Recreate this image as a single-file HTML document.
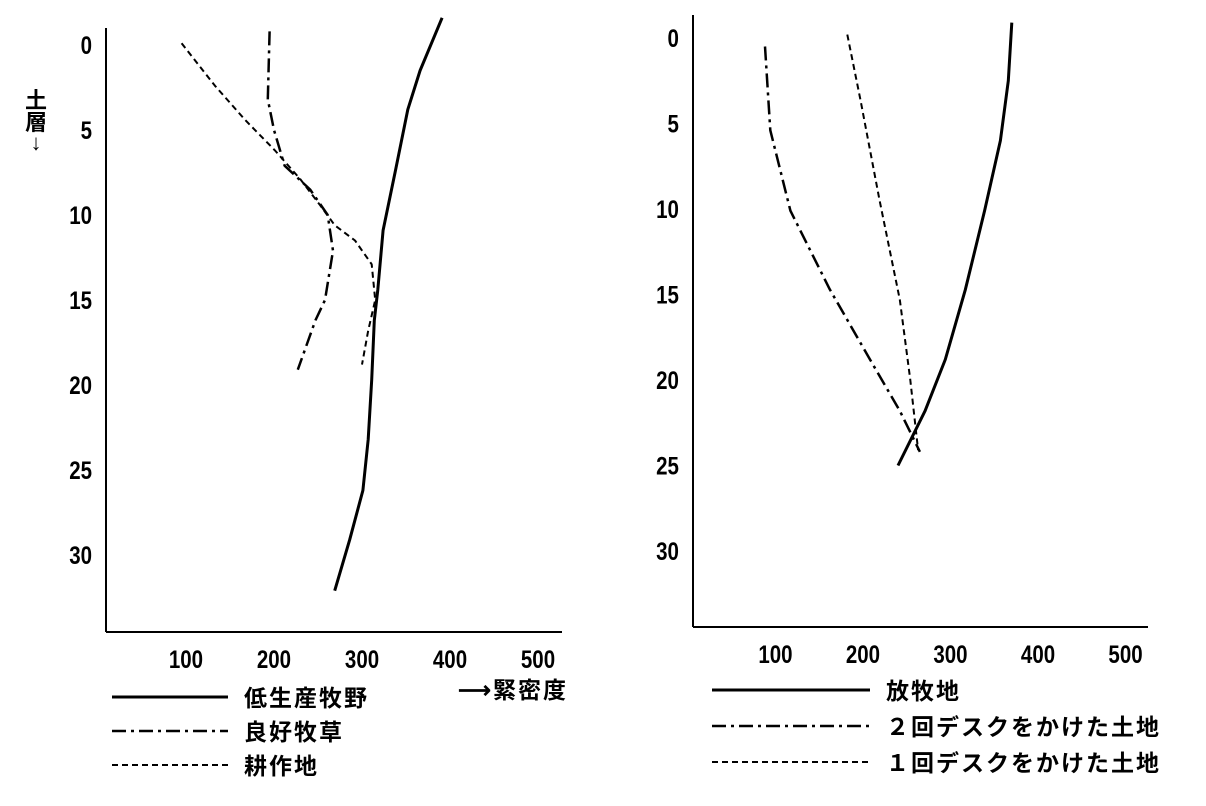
<!DOCTYPE html>
<html><head><meta charset="utf-8"><style>
body{margin:0;background:#fff;}
svg text{font-family:"Liberation Sans","Noto Sans CJK JP",sans-serif;fill:#000;font-weight:bold;}
</style></head><body>
<svg id="chart" width="1206" height="801" xmlns="http://www.w3.org/2000/svg"></svg>
<script>
const xTicks=[100,200,300,400,500];
const yTicks=[0,5,10,15,20,25,30];
const leftNames=["低生産牧野","良好牧草","耕作地"];
const leftSolidV=[391,366,352,338,324,318,314,311,307,301,286,269];
const leftSolidD=[-1.6,1.5,3.8,7.4,10.9,14.4,16.2,19.7,23.2,26.2,29.1,32.1];
const leftDashDotV=[195,193,200,212,241,261,267,258,247,227];
const leftDashDotD=[-0.8,3.2,5,7.1,8.5,10,12.1,15,16.2,19.1];
const leftDashV=[95,133,167,201,230,252,269,292,311,315,307,300];
const leftDashD=[-0.1,2.4,4.4,6.2,7.9,9.4,10.6,11.5,12.9,15,16.8,18.8];
const rightNames=["放牧地","２回デスクをかけた土地","１回デスクをかけた土地"];
const rightSolidV=[370,366,357,339,317,294,271,240];
const rightSolidD=[-0.9,2.5,6,10.1,14.7,18.8,21.8,25];
const rightDashDotV=[88,94,117,162,208,242,265];
const rightDashDotD=[0.5,5.4,10.1,14.7,18.8,21.8,24.2];
const rightDashV=[182,197,219,242,254,263];
const rightDashD=[-0.2,3.6,9.5,15.3,20,24.1];

const NS="http://www.w3.org/2000/svg";
const svg=document.getElementById('chart');
function mk(t,a,txt){const e=document.createElementNS(NS,t);for(const k in a)e.setAttribute(k,a[k]);if(txt!==undefined)e.textContent=txt;svg.appendChild(e);return e;}
const styles={solid:{w:3,d:""},dashdot:{w:2.5,d:"14 5 3 5"},dash:{w:2,d:"6 4"}};
function num(x,y,txt,anchor){
  const sx=0.82;
  const t=mk('text',{x:(x/sx).toFixed(1),y:y,'font-size':25,'text-anchor':anchor,transform:'scale('+sx+',1)'},txt);
  return t;
}
function panel(p){
  const X=v=>p.x0+v*p.sx, Y=d=>p.y0+d*p.sy;
  let e=mk('line',{x1:p.ax,y1:p.top,x2:p.ax,y2:p.bot,stroke:'#000','stroke-width':2});
  
  
  e=mk('line',{x1:p.ax,y1:p.bot,x2:p.right,y2:p.bot,stroke:'#000','stroke-width':2});
  
  
  xTicks.forEach(v=>{const t=num(X(v),p.bot+36,v,'middle');
    
    });
  yTicks.forEach(d=>{const t=num(p.ax-14,Y(d)+9,d,'end');
    
    });
  p.series.forEach((s,i)=>{
    const pts=s.v.map((v,j)=>X(v).toFixed(1)+','+Y(s.d[j]).toFixed(1)).join(' ');
    const st=styles[s.st];
    const l=mk('polyline',{points:pts,fill:'none',stroke:'#000','stroke-width':st.w,'stroke-dasharray':st.d,'stroke-linejoin':'round'});
    
    
    const ly=p.legY+i*p.legDy;
    const ll=mk('line',{x1:p.legX1,y1:ly,x2:p.legX2,y2:ly,stroke:'#000','stroke-width':st.w,'stroke-dasharray':st.d});
    
    
    const lt=mk('text',{x:p.legT,y:ly+9,'font-size':23,'letter-spacing':2},p.names[i]);
    
    
  });
}
panel({id:'left',x0:98,sx:0.88,y0:45,sy:17,ax:106,top:28,bot:632,right:562,
  names:leftNames,legY:697,legDy:34,legX1:112,legX2:228,legT:244,
  series:[{v:leftSolidV,d:leftSolidD,st:'solid'},{v:leftDashDotV,d:leftDashDotD,st:'dashdot'},{v:leftDashV,d:leftDashD,st:'dash'}]});
panel({id:'right',x0:688,sx:0.875,y0:38,sy:17.1,ax:693,top:15,bot:627,right:1148,
  names:rightNames,legY:690,legDy:36,legX1:712,legX2:870,legT:886,
  series:[{v:rightSolidV,d:rightSolidD,st:'solid'},{v:rightDashDotV,d:rightDashDotD,st:'dashdot'},{v:rightDashV,d:rightDashD,st:'dash'}]});
let t=mk('text',{x:36,y:108,'font-size':22,'text-anchor':'middle'},'土');


t=mk('text',{x:36,y:130,'font-size':22,'text-anchor':'middle'},'層');


t=mk('text',{x:36,y:150,'font-size':22,'text-anchor':'middle'},'↓');


t=mk('text',{x:458,y:698,'font-size':23,'letter-spacing':2},'⟶緊密度');


</script>
</body></html>
